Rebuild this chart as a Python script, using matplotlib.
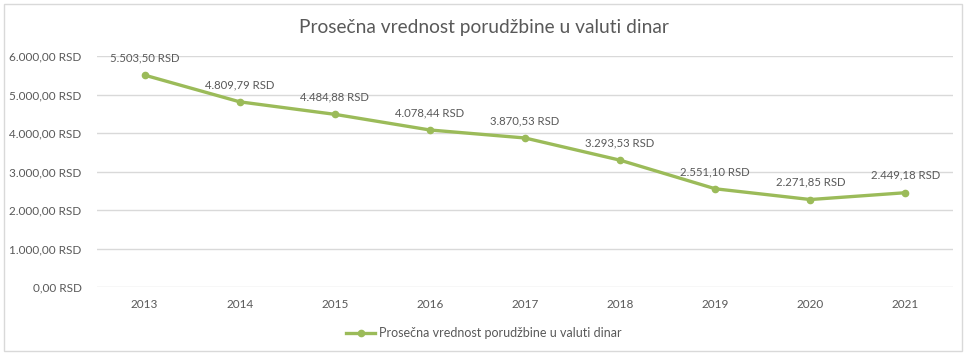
import matplotlib
matplotlib.use("Agg")
import matplotlib.pyplot as plt
from matplotlib.patches import Rectangle

years = ["2013", "2014", "2015", "2016", "2017", "2018", "2019", "2020", "2021"]
values = [5503.50, 4809.79, 4484.88, 4078.44, 3870.53, 3293.53, 2551.10, 2271.85, 2449.18]
series_name = "Prosečna vrednost porudžbine u valuti dinar"
title = "Prosečna vrednost porudžbine u valuti dinar"

def fmt(v):
    s = f"{v:,.2f}"
    s = s.replace(",", "X").replace(".", ",").replace("X", ".")
    return s + " RSD"

plt.rcParams['font.family'] = ['Lato', 'DejaVu Sans']
txt = "#595959"
green = "#9BBB59"

W, H = 968, 355
fig = plt.figure(figsize=(W/100, H/100), dpi=100)
fig.patches.append(Rectangle((4/W, 4/H), (W-10)/W, (H-8)/H, transform=fig.transFigure,
                             fill=False, edgecolor="#D9D9D9", linewidth=1))

left, right = 97/W, 953/W
bottom, top = 1 - 287/H, 1 - 56/H
ax = fig.add_axes([left, bottom, right-left, top-bottom])

x = list(range(len(years)))
ax.plot(x, values, color=green, linewidth=2.4, marker="o", markersize=4.5, label=series_name)
ax.set_xlim(-0.5, len(years)-0.5)
ax.set_ylim(0, 6000)
ax.set_yticks(range(0, 6001, 1000))
ax.set_yticklabels([fmt(v) for v in range(0, 6001, 1000)])
ax.set_xticks(x)
ax.set_xticklabels(years)
ax.grid(axis="y", color="#D9D9D9", linewidth=1)
ax.set_axisbelow(True)
for s in ax.spines.values():
    s.set_visible(False)
ax.tick_params(axis="both", length=0, colors=txt, labelsize=8.5)
ax.tick_params(axis="y", pad=11)
ax.tick_params(axis="x", pad=9)

for xi, v in zip(x, values):
    ax.annotate(fmt(v), (xi, v), xytext=(0, 8.5), textcoords="offset points",
                ha="center", va="bottom", fontsize=8.2, color=txt)

fig.text(0.5, 1 - 27/H, title, ha="center", va="center", fontsize=13.8, color=txt)

leg = fig.legend(loc="center", bbox_to_anchor=(0.5, 1 - 333/H), frameon=False,
                 fontsize=9, handlelength=2.3, labelcolor=txt, handletextpad=0.3)

fig.savefig("out.png", dpi=100)
